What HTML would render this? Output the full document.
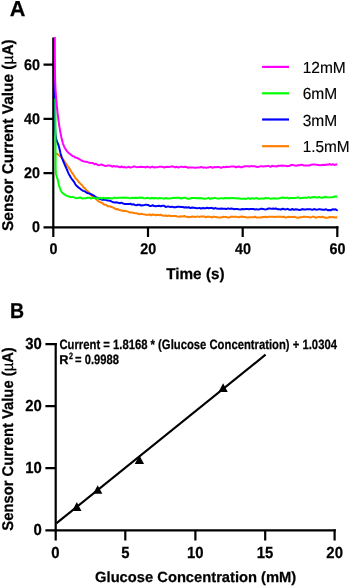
<!DOCTYPE html>
<html><head><meta charset="utf-8"><style>
html,body{margin:0;padding:0;background:#fff;}
svg{display:block;will-change:transform;text-rendering:geometricPrecision;}
text{font-family:"Liberation Sans",sans-serif;}
.t{stroke:#000;stroke-width:0.25;}
.r{stroke:#000;stroke-width:0.15;}
</style></head><body>
<svg width="350" height="587" viewBox="0 0 350 587">
<rect width="350" height="587" fill="#fff"/>
<!-- Chart A -->
<text x="9.8" y="15.7" font-size="21.7" font-weight="bold" class="t">A</text>
<text transform="translate(13.2,231.0) rotate(-90)" font-size="15.5" font-weight="bold" class="t" textLength="191.7" lengthAdjust="spacingAndGlyphs">Sensor Current Value (<tspan font-weight="normal">µ</tspan>A)</text>
<g font-weight="bold" class="t">
<text x="39.99" y="70" font-size="15.4" text-anchor="end" textLength="15.93" lengthAdjust="spacingAndGlyphs">60</text>
<text x="39.99" y="124" font-size="15.4" text-anchor="end" textLength="15.93" lengthAdjust="spacingAndGlyphs">40</text>
<text x="39.99" y="178" font-size="15.4" text-anchor="end" textLength="15.93" lengthAdjust="spacingAndGlyphs">20</text>
<text x="39.99" y="232" font-size="15.4" text-anchor="end" textLength="7.97" lengthAdjust="spacingAndGlyphs">0</text>
<text x="49.43" y="254" font-size="15.4" textLength="7.97" lengthAdjust="spacingAndGlyphs">0</text>
<text x="140.18" y="254" font-size="15.4" textLength="15.93" lengthAdjust="spacingAndGlyphs">20</text>
<text x="235.02" y="254" font-size="15.4" textLength="15.93" lengthAdjust="spacingAndGlyphs">40</text>
<text x="329.57" y="254" font-size="15.4" textLength="15.93" lengthAdjust="spacingAndGlyphs">60</text>
</g>
<text x="166.2" y="278.8" font-size="15.5" font-weight="bold" class="t" textLength="58.4" lengthAdjust="spacingAndGlyphs">Time (s)</text>
<g stroke="#000" stroke-width="2.2" fill="none" stroke-linecap="butt">
<path d="M53.3,37.4 V228.4 M52.2,227.3 H338.4 M338.4,227.3"/>
<path d="M43.5,64.7 H53.3 M43.5,118.9 H53.3 M43.5,173.1 H53.3 M43.5,227.3 H53.3"/>
<path d="M53.3,227.3 V237 M148,227.3 V237 M242.7,227.3 V237 M337.3,226.2 V237"/>
</g>
<polyline points="56.20,153.30 56.50,153.52 56.91,153.82 57.41,154.18 57.93,154.57 58.44,154.95 58.90,155.30 59.37,155.65 59.81,155.97 60.24,156.30 60.70,156.69 61.20,157.20 61.51,157.54 61.84,157.92 62.18,158.33 62.53,158.76 62.89,159.21 63.24,159.67 63.60,160.15 63.96,160.62 64.30,161.10 64.61,161.54 64.91,161.99 65.22,162.45 65.52,162.93 65.82,163.41 66.13,163.88 66.43,164.36 66.72,164.82 67.01,165.27 67.30,165.70 67.60,166.13 67.88,166.52 68.14,166.87 68.39,167.21 68.66,167.57 68.94,167.95 69.25,168.39 69.60,168.90 70.00,169.50 70.22,169.84 70.45,170.21 70.68,170.60 70.93,171.01 71.18,171.43 71.44,171.88 71.71,172.33 71.99,172.80 72.27,173.08 73.75,175.30 75.30,178.07 76.94,179.45 78.68,181.94 80.41,183.66 82.15,185.25 83.58,187.34 84.99,188.35 86.39,190.28 87.82,191.38 89.27,192.93 90.73,194.79 92.18,196.62 93.78,197.21 95.54,198.60 97.29,200.19 99.04,201.68 100.79,202.38 102.55,203.23 104.30,204.82 106.07,204.68 107.83,206.35 109.40,206.34 110.83,206.72 112.69,207.35 114.21,208.08 115.77,209.16 117.33,208.96 118.82,209.85 120.34,210.34 121.88,210.44 123.40,211.00 124.90,210.79 126.40,211.11 127.90,211.58 129.40,212.40 130.90,212.41 132.40,212.55 133.90,213.10 135.40,213.20 136.88,213.25 138.42,214.05 139.87,214.16 141.27,213.82 143.24,214.35 145.00,214.43 146.44,214.91 148.05,214.84 149.82,214.46 151.23,215.30 152.71,214.43 154.24,214.84 155.82,215.29 157.43,214.71 159.07,215.16 160.73,214.75 162.39,215.52 164.06,215.71 165.71,215.57 167.35,215.99 168.95,215.44 170.48,215.94 171.90,215.90 173.74,215.98 175.56,215.94 177.36,216.47 179.16,216.68 180.98,216.27 182.84,216.57 184.27,215.98 185.74,216.75 187.25,216.76 188.81,217.20 190.43,217.08 192.12,216.54 193.88,216.70 195.72,217.06 197.41,216.38 199.08,216.90 200.79,216.60 202.56,216.56 204.37,216.52 206.23,217.32 207.64,216.62 209.08,216.76 210.54,216.93 212.02,217.46 213.51,216.60 215.02,217.01 216.55,217.12 218.09,217.49 219.65,217.42 221.21,217.48 222.79,216.83 224.38,216.98 225.97,216.92 227.58,217.50 229.19,217.58 230.80,216.70 232.42,216.73 234.05,216.79 235.67,216.80 237.29,217.08 238.92,217.19 240.47,216.84 241.87,216.56 243.29,217.02 244.73,216.97 246.18,217.19 247.63,217.62 249.10,217.33 250.58,217.15 252.07,217.26 253.57,217.33 255.07,216.65 256.58,217.58 258.10,217.45 259.63,217.56 261.15,217.48 262.68,217.03 264.22,217.04 265.76,216.72 267.29,217.31 268.83,216.68 270.37,216.69 271.91,216.85 273.44,216.80 274.98,217.00 276.51,216.68 278.03,216.63 279.55,216.80 281.07,216.74 282.58,217.04 284.08,216.67 285.57,217.60 287.06,217.32 288.54,216.81 290.00,216.93 291.57,217.04 293.18,217.06 294.83,216.80 296.51,217.60 298.21,217.76 299.93,217.18 301.67,217.21 303.42,216.77 305.17,216.79 306.94,217.06 308.70,216.98 310.45,217.60 312.20,216.87 313.93,216.73 315.64,217.75 317.34,217.29 319.00,216.87 320.63,217.31 322.23,216.75 323.79,217.30 325.30,217.80 326.77,217.68 328.18,217.50 329.97,217.02 331.65,217.14 333.21,216.93 334.63,217.59 336.21,217.33 337.30,217.61" fill="none" stroke="#FF7F00" stroke-width="2" stroke-linejoin="round"/>
<polyline points="54.70,76.00 54.70,76.26 54.70,76.54 54.70,76.84 54.70,77.16 54.71,77.49 54.71,77.84 54.71,78.21 54.71,78.60 54.71,79.00 54.71,79.42 54.71,79.85 54.72,80.29 54.72,80.75 54.72,81.21 54.72,81.69 54.72,82.19 54.72,82.69 54.73,83.20 54.73,83.72 54.73,84.25 54.73,84.79 54.73,85.33 54.74,85.88 54.74,86.44 54.74,87.00 54.74,87.57 54.74,88.14 54.75,88.71 54.75,89.29 54.75,89.87 54.75,90.45 54.76,91.04 54.76,91.62 54.76,92.20 54.76,92.79 54.77,93.37 54.77,93.95 54.77,94.52 54.77,95.10 54.78,95.66 54.78,96.23 54.78,96.79 54.78,97.34 54.79,97.89 54.79,98.43 54.79,98.96 54.80,99.48 54.80,100.00 54.80,100.49 54.81,100.99 54.81,101.50 54.81,102.01 54.81,102.53 54.82,103.05 54.82,103.57 54.82,104.10 54.82,104.64 54.83,105.18 54.83,105.72 54.83,106.26 54.83,106.80 54.84,107.35 54.84,107.90 54.84,108.45 54.85,109.00 54.85,109.55 54.85,110.10 54.85,110.65 54.86,111.20 54.86,111.74 54.86,112.29 54.87,112.83 54.87,113.38 54.87,113.91 54.88,114.45 54.88,114.98 54.88,115.51 54.89,116.03 54.89,116.55 54.89,117.06 54.90,117.57 54.90,118.07 54.91,118.57 54.91,119.06 54.92,119.54 54.92,120.02 54.93,120.48 54.93,120.94 54.94,121.39 54.94,121.84 54.95,122.27 54.96,122.69 54.96,123.10 54.97,123.50 54.98,123.90 54.98,124.28 54.99,124.64 55.00,125.00 55.02,125.84 55.04,126.63 55.06,127.35 55.08,128.03 55.11,128.66 55.13,129.24 55.16,129.78 55.18,130.29 55.21,130.77 55.24,131.21 55.27,131.63 55.30,132.04 55.33,132.42 55.36,132.80 55.40,133.16 55.44,133.52 55.47,133.88 55.51,134.25 55.56,134.62 55.60,135.00 55.68,135.67 55.77,136.28 55.86,136.84 55.95,137.35 56.05,137.83 56.16,138.28 56.27,138.73 56.39,139.17 56.52,139.62 56.65,140.10 56.80,140.60 56.94,141.08 57.10,141.55 57.27,142.01 57.44,142.48 57.62,142.95 57.81,143.42 57.99,143.90 58.18,144.39 58.37,144.89 58.55,145.41 58.73,145.94 58.90,146.50 59.03,146.96 59.16,147.44 59.28,147.93 59.40,148.43 59.52,148.94 59.64,149.46 59.75,149.98 59.87,150.51 59.99,151.04 60.11,151.57 60.24,152.11 60.37,152.64 60.51,153.16 60.65,153.69 60.80,154.20 60.95,154.68 61.10,155.16 61.25,155.63 61.40,156.11 61.56,156.59 61.73,157.06 61.89,157.54 62.06,158.01 62.23,158.49 62.41,158.96 62.59,159.44 62.76,159.91 62.95,160.38 63.13,160.86 63.31,161.33 63.50,161.80 63.69,162.27 63.88,162.75 64.08,163.22 64.29,163.70 64.49,164.17 64.70,164.65 64.91,165.13 65.12,165.60 65.33,166.07 65.54,166.54 65.76,167.01 65.97,167.48 66.18,167.94 66.39,168.40 66.60,168.85 66.80,169.30 67.01,169.77 67.21,170.23 67.41,170.68 67.60,171.13 67.78,171.57 67.97,172.00 68.15,172.44 68.35,172.87 68.54,173.31 68.75,173.76 68.97,174.20 69.20,174.66 69.45,175.13 69.71,175.61 70.00,176.10 70.24,176.50 70.49,176.92 70.76,177.35 71.04,177.79 71.32,178.24 71.62,178.69 71.92,179.15 72.22,179.43 73.81,181.59 75.40,184.28 76.84,186.08 78.36,187.37 79.88,188.57 81.40,189.75 83.15,190.89 84.90,191.40 86.66,192.69 88.06,193.21 89.51,193.49 90.97,194.08 92.42,194.95 93.86,195.57 95.28,196.72 96.70,197.68 98.13,197.75 99.55,198.85 100.97,199.41 102.40,199.84 103.82,199.62 105.29,199.85 106.69,200.16 108.19,200.42 110.00,200.77 111.84,201.59 113.39,202.20 115.02,202.44 116.67,202.34 118.28,202.81 119.82,203.21 121.37,202.63 122.90,203.44 124.40,203.88 125.90,203.90 127.40,204.02 128.90,203.89 130.40,203.73 131.90,204.57 133.40,204.23 134.90,204.90 136.40,205.22 138.07,204.71 139.48,204.80 141.27,205.49 143.24,205.35 145.00,204.84 146.44,204.87 148.05,204.99 149.82,205.92 151.23,205.89 152.71,205.25 154.24,206.09 155.82,206.35 157.43,206.08 159.07,205.84 160.73,206.15 162.39,205.78 164.06,205.75 165.71,206.89 167.35,206.62 168.95,206.57 170.48,207.10 171.90,206.63 173.74,207.21 175.56,207.26 177.36,206.68 179.16,206.82 180.98,206.97 182.84,207.01 184.27,207.46 185.74,207.17 187.25,207.42 188.81,207.17 190.43,208.10 192.12,207.56 193.88,207.74 195.72,207.95 197.41,208.36 199.11,207.88 200.89,208.49 202.75,208.09 204.20,208.17 205.67,208.21 207.18,207.70 208.72,208.20 210.28,207.97 211.86,207.82 213.46,208.74 215.07,208.09 216.69,208.47 218.31,208.79 219.94,208.64 221.56,208.43 223.18,208.68 224.79,208.76 226.39,209.05 227.97,208.34 229.53,208.87 231.07,208.56 232.58,208.63 234.05,209.20 235.49,208.94 236.90,209.02 238.70,209.27 240.61,209.46 242.38,208.96 244.11,209.16 245.79,209.05 247.42,209.06 249.01,209.26 250.56,208.98 252.08,209.06 253.57,208.99 255.04,209.48 256.48,209.20 257.90,209.38 259.31,209.44 261.17,208.66 263.02,208.98 264.86,209.39 266.71,209.27 268.58,208.49 270.00,208.48 271.55,208.85 273.06,208.46 274.52,208.66 275.95,208.50 277.35,209.18 279.19,209.35 281.02,209.51 282.86,208.74 284.72,209.40 286.15,209.37 287.62,208.84 289.13,209.68 290.69,209.81 292.31,209.02 294.00,209.85 295.77,209.27 297.43,209.39 299.23,209.97 300.67,209.81 302.19,209.09 303.77,209.41 305.40,209.52 307.08,209.34 308.80,209.20 310.55,209.35 312.32,209.81 314.10,209.06 315.88,209.66 317.66,209.55 319.42,209.11 321.17,209.47 322.88,209.80 324.55,209.70 326.18,209.22 327.75,210.25 329.26,210.04 330.69,210.26 332.48,209.32 334.10,209.51 335.54,209.28 337.04,210.10 337.30,209.55" fill="none" stroke="#0000FF" stroke-width="2" stroke-linejoin="round"/>
<polyline points="55.30,98.50 55.30,98.75 55.31,99.02 55.31,99.30 55.31,99.59 55.32,99.89 55.32,100.22 55.32,100.56 55.33,100.92 55.33,101.30 55.34,101.71 55.34,102.15 55.35,102.61 55.35,103.10 55.36,103.62 55.36,104.18 55.37,104.77 55.37,105.39 55.38,106.06 55.38,106.76 55.39,107.50 55.39,108.29 55.40,109.12 55.40,110.00 55.40,110.35 55.40,110.72 55.41,111.09 55.41,111.48 55.41,111.88 55.41,112.30 55.41,112.72 55.41,113.15 55.41,113.59 55.42,114.05 55.42,114.51 55.42,114.98 55.42,115.45 55.42,115.94 55.42,116.43 55.43,116.93 55.43,117.44 55.43,117.96 55.43,118.47 55.43,119.00 55.44,119.53 55.44,120.07 55.44,120.60 55.44,121.15 55.44,121.69 55.44,122.24 55.45,122.80 55.45,123.35 55.45,123.91 55.45,124.47 55.45,125.03 55.45,125.59 55.45,126.15 55.46,126.71 55.46,127.27 55.46,127.83 55.46,128.39 55.46,128.95 55.46,129.50 55.47,130.06 55.47,130.61 55.47,131.15 55.47,131.70 55.47,132.23 55.48,132.77 55.48,133.30 55.48,133.82 55.48,134.34 55.48,134.86 55.48,135.36 55.48,135.86 55.49,136.36 55.49,136.84 55.49,137.32 55.49,137.79 55.49,138.25 55.49,138.70 55.50,139.15 55.50,139.58 55.50,140.00 55.50,140.62 55.50,141.24 55.51,141.84 55.51,142.44 55.51,143.03 55.51,143.62 55.52,144.20 55.52,144.77 55.52,145.34 55.52,145.90 55.52,146.45 55.53,146.99 55.53,147.53 55.53,148.07 55.53,148.59 55.54,149.11 55.54,149.63 55.54,150.14 55.54,150.64 55.54,151.14 55.55,151.63 55.55,152.11 55.55,152.60 55.55,153.07 55.56,153.54 55.56,154.00 55.56,154.46 55.56,154.92 55.57,155.37 55.57,155.81 55.57,156.25 55.57,156.68 55.58,157.11 55.58,157.54 55.58,157.96 55.59,158.38 55.59,158.79 55.59,159.20 55.60,159.60 55.60,160.00 55.61,160.68 55.61,161.35 55.62,162.00 55.62,162.63 55.63,163.25 55.63,163.85 55.63,164.44 55.64,165.01 55.64,165.57 55.65,166.11 55.65,166.63 55.66,167.14 55.67,167.64 55.67,168.12 55.68,168.58 55.69,169.03 55.70,169.47 55.71,169.89 55.73,170.30 55.74,170.70 55.76,171.08 55.78,171.45 55.80,171.80 55.87,172.69 55.95,173.39 56.04,173.94 56.14,174.39 56.24,174.77 56.36,175.14 56.48,175.54 56.60,176.00 56.73,176.50 56.87,176.97 57.02,177.43 57.17,177.89 57.33,178.37 57.48,178.87 57.64,179.41 57.80,180.00 57.90,180.43 58.00,180.88 58.09,181.35 58.19,181.84 58.28,182.34 58.38,182.85 58.48,183.37 58.59,183.89 58.70,184.40 58.82,184.91 58.96,185.41 59.10,185.90 59.26,186.39 59.43,186.89 59.61,187.40 59.80,187.91 59.99,188.42 60.19,188.93 60.40,189.42 60.60,189.89 60.81,190.34 61.01,190.76 61.21,191.15 61.40,191.50 61.77,192.08 62.13,192.54 62.49,192.91 62.86,193.21 63.22,193.50 63.60,193.80 64.05,194.15 64.49,194.46 64.95,194.75 65.45,195.02 66.00,195.30 66.43,195.51 66.89,195.72 67.37,195.94 67.87,196.15 68.40,196.35 68.94,196.53 69.50,196.70 69.94,196.82 70.39,196.92 70.85,197.02 71.32,197.11 71.80,197.20 72.31,196.87 74.00,197.41 75.78,198.14 77.25,198.16 78.84,197.65 80.60,197.61 82.30,198.53 84.00,198.20 85.45,198.38 87.14,197.73 89.21,197.71 90.75,198.41 92.33,198.12 94.02,197.72 95.82,198.67 97.24,198.32 98.71,198.49 100.25,197.69 101.84,198.53 103.49,197.65 105.19,198.52 106.95,198.06 108.76,197.93 110.42,198.16 112.05,198.57 113.67,197.84 115.28,197.68 116.91,198.12 118.57,197.80 120.27,197.65 122.04,197.71 123.90,197.59 125.36,197.75 126.88,197.87 128.48,197.87 130.16,198.37 131.92,197.85 133.78,198.09 135.74,197.74 137.81,197.93 139.26,197.57 140.76,197.83 142.35,197.57 144.01,198.37 145.75,198.17 147.57,197.78 148.97,198.10 150.40,198.61 151.87,197.70 153.36,198.49 154.88,198.07 156.42,198.14 157.99,198.52 159.58,198.04 161.18,198.17 162.80,198.37 164.43,198.70 166.07,198.00 167.72,198.55 169.38,198.41 171.03,198.34 172.69,198.09 174.35,198.04 176.00,197.72 177.65,197.81 179.28,197.75 180.91,198.49 182.53,197.96 184.12,197.87 185.70,197.79 187.26,198.63 188.80,198.66 190.31,198.45 191.80,198.03 193.25,197.99 194.68,198.05 196.52,198.24 198.30,197.92 200.00,198.24 201.84,198.05 203.62,198.82 205.33,198.85 206.99,198.39 208.59,198.07 210.16,198.87 211.67,198.16 213.16,198.22 214.60,197.85 216.03,198.28 217.89,198.39 219.72,198.44 221.53,198.12 223.34,198.47 225.15,197.93 226.97,198.23 228.83,198.04 230.24,198.39 231.68,198.00 233.15,197.98 234.66,198.29 236.21,198.21 237.80,198.60 239.44,198.53 240.90,198.77 242.74,198.66 244.61,198.72 246.03,198.89 247.46,198.34 248.92,198.27 250.38,198.98 251.86,198.05 253.35,198.67 254.85,198.57 256.36,197.90 257.88,198.76 259.41,198.81 260.94,198.51 262.48,198.61 264.03,198.68 265.58,197.92 267.13,198.33 268.68,198.29 270.23,198.64 271.78,198.59 273.34,198.59 274.88,198.31 276.43,198.63 277.97,198.38 279.50,198.37 281.03,197.84 282.55,197.60 284.06,197.69 285.56,197.92 287.05,197.61 288.53,198.39 290.00,198.06 291.57,198.11 293.18,198.08 294.83,198.11 296.51,197.87 298.21,197.30 299.93,198.14 301.67,198.05 303.42,197.74 305.17,197.73 306.94,197.83 308.70,197.14 310.45,197.83 312.20,197.26 313.93,197.02 315.64,197.19 317.34,197.66 319.00,197.04 320.63,197.59 322.23,197.80 323.79,197.24 325.30,197.07 326.77,197.14 328.18,197.33 329.97,197.38 331.65,197.17 333.21,197.16 334.63,196.50 336.21,196.54 337.30,196.63" fill="none" stroke="#00FF00" stroke-width="2" stroke-linejoin="round"/>
<polyline points="54.80,37.00 54.80,37.26 54.80,37.54 54.80,37.84 54.80,38.16 54.80,38.49 54.81,38.85 54.81,39.22 54.81,39.60 54.81,40.01 54.81,40.42 54.81,40.86 54.81,41.30 54.81,41.76 54.81,42.23 54.81,42.71 54.81,43.20 54.81,43.71 54.81,44.22 54.82,44.75 54.82,45.28 54.82,45.82 54.82,46.36 54.82,46.92 54.82,47.48 54.82,48.04 54.82,48.61 54.82,49.19 54.83,49.77 54.83,50.35 54.83,50.93 54.83,51.52 54.83,52.10 54.83,52.69 54.84,53.27 54.84,53.86 54.84,54.44 54.84,55.03 54.85,55.61 54.85,56.18 54.85,56.75 54.85,57.32 54.86,57.88 54.86,58.44 54.86,58.99 54.86,59.53 54.87,60.07 54.87,60.60 54.88,61.12 54.88,61.62 54.88,62.12 54.89,62.61 54.89,63.09 54.90,63.55 54.90,64.00 54.91,64.57 54.91,65.14 54.92,65.70 54.92,66.26 54.93,66.81 54.94,67.37 54.94,67.92 54.95,68.46 54.96,69.01 54.96,69.54 54.97,70.08 54.97,70.61 54.98,71.14 54.99,71.67 55.00,72.19 55.00,72.71 55.01,73.22 55.02,73.73 55.03,74.24 55.04,74.75 55.04,75.25 55.05,75.75 55.06,76.24 55.07,76.73 55.08,77.22 55.09,77.71 55.10,78.19 55.11,78.67 55.12,79.14 55.13,79.61 55.14,80.08 55.16,80.54 55.17,81.01 55.18,81.46 55.20,81.92 55.21,82.37 55.22,82.81 55.24,83.26 55.25,83.70 55.27,84.14 55.28,84.57 55.30,85.00 55.32,85.60 55.35,86.18 55.38,86.76 55.40,87.34 55.43,87.90 55.46,88.46 55.49,89.01 55.52,89.56 55.56,90.09 55.59,90.62 55.62,91.15 55.66,91.66 55.69,92.17 55.73,92.68 55.76,93.17 55.80,93.67 55.83,94.15 55.87,94.63 55.91,95.11 55.94,95.58 55.98,96.04 56.02,96.50 56.05,96.95 56.09,97.40 56.13,97.85 56.16,98.29 56.20,98.72 56.23,99.15 56.27,99.58 56.30,100.00 56.35,100.62 56.40,101.21 56.45,101.79 56.50,102.35 56.55,102.89 56.59,103.41 56.64,103.92 56.69,104.43 56.74,104.92 56.79,105.40 56.84,105.88 56.89,106.35 56.94,106.82 56.99,107.29 57.04,107.76 57.09,108.24 57.14,108.72 57.19,109.20 57.25,109.70 57.30,110.20 57.36,110.71 57.41,111.22 57.47,111.73 57.52,112.24 57.58,112.75 57.63,113.26 57.69,113.77 57.75,114.28 57.80,114.78 57.86,115.29 57.92,115.80 57.98,116.31 58.04,116.82 58.10,117.33 58.17,117.84 58.23,118.35 58.30,118.86 58.36,119.38 58.43,119.89 58.50,120.40 58.57,120.91 58.64,121.43 58.71,121.94 58.79,122.46 58.86,122.97 58.93,123.49 59.01,124.00 59.09,124.52 59.16,125.03 59.24,125.55 59.32,126.07 59.40,126.58 59.49,127.10 59.57,127.61 59.66,128.13 59.74,128.64 59.83,129.16 59.92,129.67 60.01,130.19 60.10,130.70 60.19,131.22 60.29,131.74 60.39,132.27 60.49,132.81 60.59,133.35 60.69,133.90 60.79,134.44 60.90,134.98 61.01,135.53 61.11,136.06 61.22,136.59 61.33,137.12 61.44,137.64 61.55,138.14 61.66,138.64 61.77,139.12 61.87,139.59 61.98,140.05 62.09,140.48 62.20,140.90 62.38,141.56 62.55,142.17 62.73,142.75 62.90,143.30 63.08,143.82 63.26,144.31 63.44,144.79 63.62,145.24 63.81,145.69 64.00,146.13 64.20,146.56 64.40,147.00 64.66,147.52 64.92,148.02 65.20,148.50 65.48,148.97 65.76,149.42 66.05,149.85 66.34,150.27 66.63,150.66 66.92,151.04 67.20,151.40 67.60,151.87 68.00,152.29 68.40,152.67 68.80,153.02 69.20,153.35 69.60,153.68 70.00,154.00 70.46,154.36 70.90,154.70 71.34,155.02 71.79,155.33 72.28,155.92 73.68,156.35 75.12,157.54 76.60,157.76 78.44,158.70 79.94,159.53 81.36,160.51 83.18,161.17 84.77,161.65 86.41,161.68 88.28,162.41 89.82,162.73 91.41,163.11 92.98,163.08 94.45,164.24 95.94,163.77 97.65,164.94 99.45,165.16 101.25,164.38 102.77,165.05 104.51,165.66 105.95,165.99 107.48,165.60 109.07,165.58 110.69,165.70 112.32,166.68 113.94,166.02 115.50,166.57 117.00,166.21 118.54,166.73 120.05,167.29 121.55,166.46 123.03,167.27 124.51,166.97 125.99,167.43 127.47,167.26 128.97,166.77 130.49,167.53 131.99,167.10 133.50,166.61 135.02,166.60 136.54,167.14 138.08,167.09 139.61,166.92 141.14,166.74 142.67,166.95 144.19,166.91 145.70,167.47 147.17,166.54 148.94,167.33 150.61,167.39 152.34,166.55 153.75,167.41 155.33,167.15 157.14,167.35 159.23,166.67 160.76,166.76 162.41,166.79 164.21,167.47 165.64,167.03 167.13,166.79 168.68,166.88 170.27,166.73 171.89,166.50 173.54,166.57 175.20,167.40 176.86,166.81 178.52,167.55 180.16,166.81 181.78,166.85 183.36,167.14 184.90,166.80 186.38,167.02 187.80,167.68 189.58,167.62 191.21,167.56 192.91,167.38 194.48,167.72 195.95,167.77 197.79,167.38 199.56,167.60 201.32,166.89 203.12,167.66 204.53,167.36 206.03,167.70 207.64,167.58 209.38,167.17 210.84,166.89 212.59,167.83 214.42,166.92 215.84,167.27 217.28,167.10 218.76,167.01 220.26,167.46 221.79,167.68 223.34,166.85 224.90,167.24 226.47,166.81 228.05,167.05 229.63,166.83 231.21,166.54 232.79,166.49 234.36,166.50 235.92,167.23 237.47,166.75 238.99,166.41 240.50,167.14 242.01,167.21 243.52,166.59 245.03,166.23 246.56,166.27 248.08,166.14 249.60,166.40 251.13,166.11 252.65,166.26 254.17,166.26 255.69,166.59 257.21,166.93 258.72,166.76 260.22,166.37 261.72,166.35 263.21,166.45 264.68,166.27 266.15,166.20 267.61,165.87 269.05,166.08 270.52,166.80 272.06,165.83 273.55,166.20 275.00,166.29 276.42,166.50 278.27,165.71 280.10,165.70 281.93,165.59 283.78,165.68 285.20,165.67 286.64,166.17 288.12,165.99 289.64,165.96 291.22,164.96 292.87,164.91 294.59,165.60 296.38,165.75 297.86,165.25 299.70,165.32 301.17,164.64 302.71,165.03 304.31,165.58 305.96,165.43 307.65,165.42 309.38,165.51 311.14,164.68 312.91,164.49 314.69,164.50 316.47,164.86 318.25,165.00 320.01,165.25 321.74,164.97 323.44,164.85 325.10,164.95 326.71,164.58 328.26,164.65 329.75,164.05 331.16,164.84 332.90,164.20 334.48,164.92 336.18,164.58 337.30,164.18" fill="none" stroke="#FF00FF" stroke-width="2" stroke-linejoin="round"/>

<g stroke-width="2.2">
<line x1="262.1" y1="66.9" x2="289" y2="66.9" stroke="#FF00FF"/>
<line x1="262.1" y1="93.3" x2="289" y2="93.3" stroke="#00FF00"/>
<line x1="262.1" y1="119.5" x2="289" y2="119.5" stroke="#0000FF"/>
<line x1="262.1" y1="146.2" x2="289" y2="146.2" stroke="#FF7F00"/>
</g>
<g font-size="16" class="r">
<text x="302.7" y="72.9" textLength="43.1" lengthAdjust="spacingAndGlyphs">12mM</text>
<text x="302.7" y="99.3" textLength="34.5" lengthAdjust="spacingAndGlyphs">6mM</text>
<text x="302.7" y="125.7" textLength="34.5" lengthAdjust="spacingAndGlyphs">3mM</text>
<text x="302.7" y="152.3" textLength="47.0" lengthAdjust="spacingAndGlyphs">1.5mM</text>
</g>
<!-- Chart B -->
<text x="10.0" y="318" font-size="21.5" font-weight="bold" class="t" textLength="14.1" lengthAdjust="spacingAndGlyphs">B</text>
<text transform="translate(13.2,530.65) rotate(-90)" font-size="15.5" font-weight="bold" class="t" textLength="183.4" lengthAdjust="spacingAndGlyphs">Sensor Current Value (<tspan font-weight="normal">µ</tspan>A)</text>
<g font-weight="bold" class="t">
<text x="41.81" y="349" font-size="16" text-anchor="end" textLength="16.55" lengthAdjust="spacingAndGlyphs">30</text>
<text x="41.81" y="411" font-size="16" text-anchor="end" textLength="16.55" lengthAdjust="spacingAndGlyphs">20</text>
<text x="41.81" y="473" font-size="16" text-anchor="end" textLength="16.55" lengthAdjust="spacingAndGlyphs">10</text>
<text x="41.81" y="535" font-size="16" text-anchor="end" textLength="8.28" lengthAdjust="spacingAndGlyphs">0</text>
<text x="51.37" y="558" font-size="16" textLength="8.28" lengthAdjust="spacingAndGlyphs">0</text>
<text x="121.14" y="558" font-size="16" textLength="8.28" lengthAdjust="spacingAndGlyphs">5</text>
<text x="186.96" y="558" font-size="16" textLength="16.55" lengthAdjust="spacingAndGlyphs">10</text>
<text x="256.66" y="558" font-size="16" textLength="16.55" lengthAdjust="spacingAndGlyphs">15</text>
<text x="326.37" y="558" font-size="16" textLength="16.55" lengthAdjust="spacingAndGlyphs">20</text>
</g>
<text x="95.1" y="582.1" font-size="14.73" font-weight="bold" class="t">Glucose Concentration (mM)</text>
<g stroke="#000" stroke-width="2.2" fill="none">
<path d="M55.7,343 V531.4 M54.6,530.3 H335.7"/>
<path d="M45.4,344.1 H56.8 M45.4,406.1 H55.7 M45.4,468.2 H55.7 M45.4,530.3 H55.7"/>
<path d="M55.7,530.3 V540.6 M125.3,530.3 V540.6 M195.4,530.3 V540.6 M265.2,530.3 V540.6 M334.6,529.2 V540.6"/>
</g>
<line x1="56.28" y1="523.42" x2="265.56" y2="354.71" stroke="#000" stroke-width="2.15"/>
<polygon points="76.80,502.10 72.15,511.00 81.45,511.00" fill="#000"/>
<polygon points="97.70,485.30 93.05,493.80 102.35,493.80" fill="#000"/>
<polygon points="139.40,455.20 134.75,463.90 144.05,463.90" fill="#000"/>
<polygon points="223.10,383.30 218.45,392.00 227.75,392.00" fill="#000"/>

<g font-size="13.5" font-weight="bold" class="t">
<text x="59.45" y="348.8" textLength="277.5" lengthAdjust="spacingAndGlyphs">Current = 1.8168 * (Glucose Concentration) + 1.0304</text>
<text x="59.15" y="363.5" font-size="12.8">R</text>
<text x="68.9" y="359" font-size="9.2" textLength="4.0" lengthAdjust="spacingAndGlyphs">2</text>
<text x="75.1" y="363.5" textLength="43.8" lengthAdjust="spacingAndGlyphs">= 0.9988</text>
</g>
</svg>
</body></html>
